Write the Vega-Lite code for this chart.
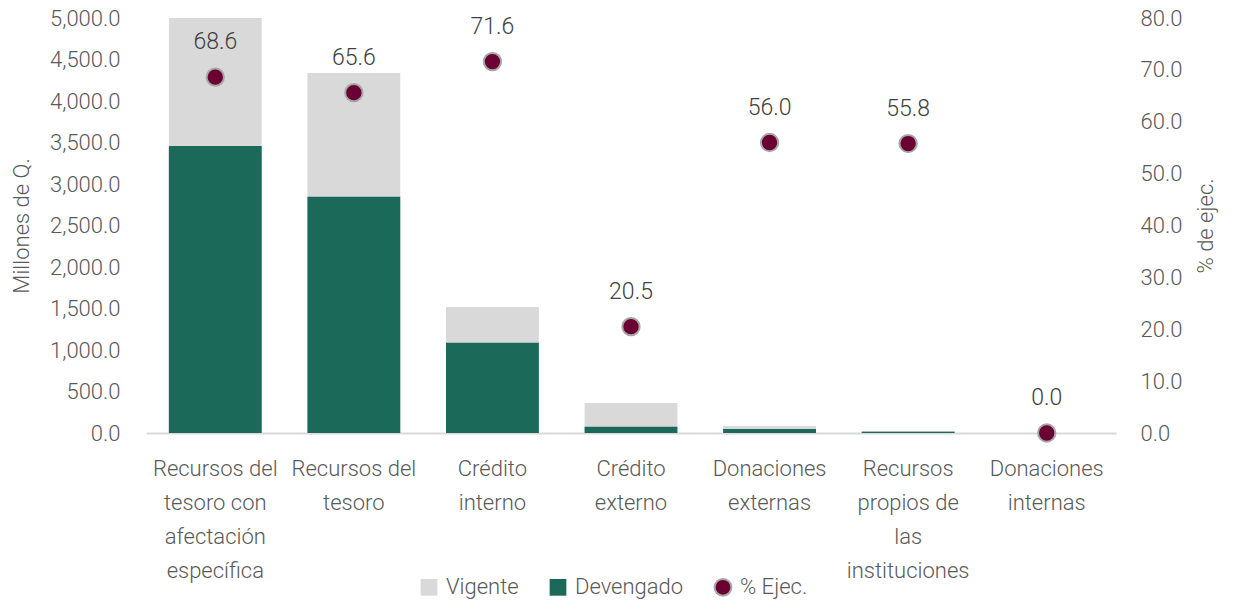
{
  "$schema": "https://vega.github.io/schema/vega-lite/v6.json",
  "width": 970,
  "height": 415,
  "autosize": {"type": "none"},
  "padding": {"left": 146, "top": 18, "right": 118, "bottom": 170},
  "config": {
    "view": {"stroke": null},
    "font": "Roboto",
    "axis": {"labelFont": "Roboto", "labelFontWeight": 300, "titleFont": "Roboto", "titleFontWeight": 300, "labelColor": "#595959", "titleColor": "#595959", "labelFontSize": 22, "titleFontSize": 22, "grid": false, "ticks": false, "domain": false, "labelOverlap": false}
  },
  "data": {
    "values": [
      {"cat": "Recursos del tesoro con afectación específica", "Vigente": 5000, "Devengado": 3458, "pct": 68.6},
      {"cat": "Recursos del tesoro", "Vigente": 4337, "Devengado": 2845, "pct": 65.6},
      {"cat": "Crédito interno", "Vigente": 1518, "Devengado": 1087, "pct": 71.6},
      {"cat": "Crédito externo", "Vigente": 361, "Devengado": 74, "pct": 20.5},
      {"cat": "Donaciones externas", "Vigente": 84, "Devengado": 47, "pct": 56.0},
      {"cat": "Recursos propios de las instituciones", "Vigente": 24, "Devengado": 14, "pct": 55.8},
      {"cat": "Donaciones internas", "Vigente": 0, "Devengado": 0, "pct": 0.0}
    ]
  },
  "encoding": {
    "x": {
      "field": "cat", "type": "nominal", "sort": null,
      "scale": {"paddingInner": 0.33, "paddingOuter": 0.165},
      "axis": {
        "title": null, "labelAngle": 0, "domain": true, "domainColor": "#d9d9d9", "domainWidth": 2,
        "labelPadding": 25, "labelLineHeight": 34, "labelBaseline": "top", "labelLimit": 300,
        "labelExpr": "datum.value == 'Recursos del tesoro con afectación específica' ? ['Recursos del','tesoro con','afectación','específica'] : datum.value == 'Recursos del tesoro' ? ['Recursos del','tesoro'] : datum.value == 'Crédito interno' ? ['Crédito','interno'] : datum.value == 'Crédito externo' ? ['Crédito','externo'] : datum.value == 'Donaciones externas' ? ['Donaciones','externas'] : datum.value == 'Recursos propios de las instituciones' ? ['Recursos','propios de','las','instituciones'] : ['Donaciones','internas']"
      }
    }
  },
  "layer": [
    {
      "transform": [{"fold": ["Vigente", "Devengado"], "as": ["serie", "valor"]}],
      "mark": {"type": "bar"},
      "encoding": {
        "y": {
          "field": "valor", "type": "quantitative", "stack": null,
          "scale": {"domain": [0, 5000]},
          "axis": {"title": "Millones de Q.", "format": ",.1f", "values": [0,500,1000,1500,2000,2500,3000,3500,4000,4500,5000], "labelPadding": 26, "titlePadding": 16}
        },
        "color": {
          "field": "serie", "type": "nominal",
          "scale": {"domain": ["Vigente", "Devengado", "% Ejec."], "range": ["#d9d9d9", "#1b6a59", "#6b0033"]},
          "legend": {
            "title": null, "orient": "none", "direction": "horizontal", "legendX": 272, "legendY": 558,
            "labelFont": "Roboto", "labelFontWeight": 300, "labelFontSize": 22, "labelColor": "#595959",
            "symbolSize": 280, "columnPadding": 26, "labelOffset": 6,
            "symbolStrokeWidth": 0,
            "encode": {"symbols": {"update": {
              "shape": {"signal": "datum.value == '% Ejec.' ? 'circle' : 'square'"},
              "stroke": {"signal": "datum.value == '% Ejec.' ? '#a6a6a6' : 'transparent'"},
              "strokeWidth": {"value": 2}
            }}}
          }
        },
        "order": {"field": "serie", "sort": "descending"}
      }
    },
    {
      "layer": [
        {
          "mark": {"type": "point", "filled": true, "size": 300, "fill": "#6b0033", "stroke": "#a6a6a6", "strokeWidth": 2, "opacity": 1},
          "encoding": {
            "y": {"field": "pct", "type": "quantitative", "scale": {"domain": [0, 80]},
              "axis": {"orient": "right", "title": "% de ejec.", "titleAngle": 270, "titleBaseline": "top", "format": ".1f", "values": [0,10,20,30,40,50,60,70,80], "labelPadding": 24, "titlePadding": 14}}
          }
        },
        {
          "mark": {"type": "text", "dy": -35, "fontSize": 23, "font": "Roboto", "fontWeight": 300, "color": "#404040"},
          "encoding": {
            "y": {"field": "pct", "type": "quantitative", "scale": {"domain": [0, 80]}},
            "text": {"field": "pct", "type": "quantitative", "format": ".1f"}
          }
        }
      ]
    }
  ],
  "resolve": {"scale": {"y": "independent"}}
}
